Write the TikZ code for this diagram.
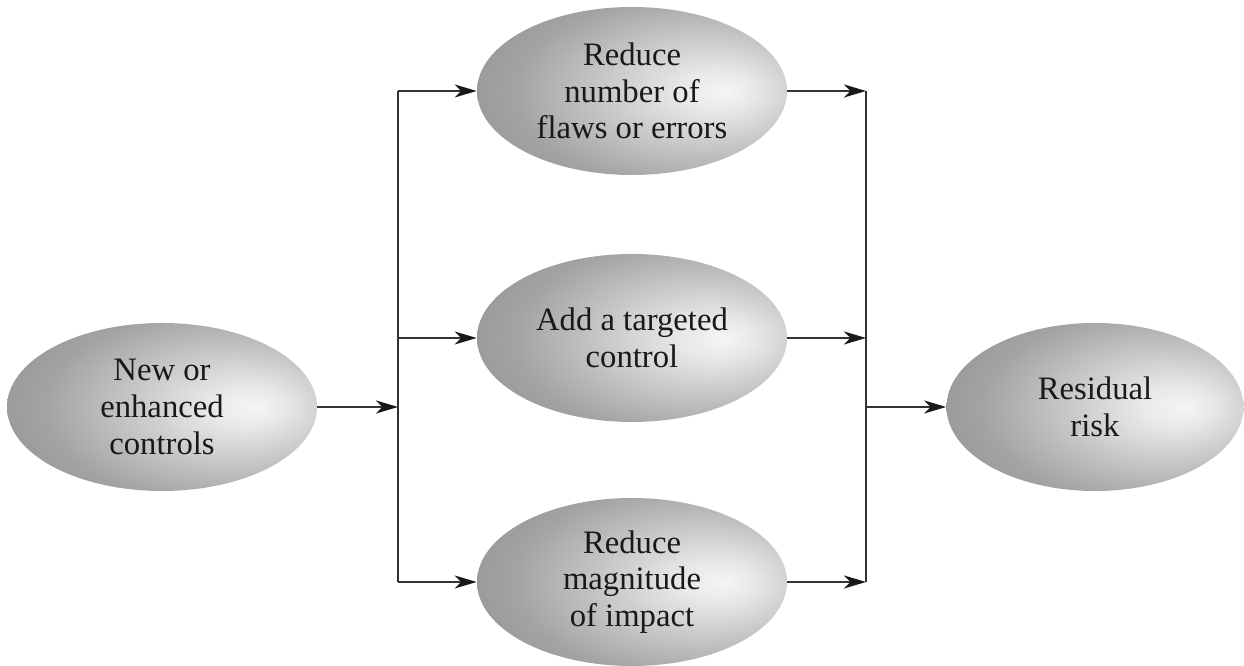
\documentclass[tikz,border=0pt]{standalone}
\usepackage{fontspec}
\setmainfont{Liberation Serif}
\usepackage{tikz}
\usetikzlibrary{shapes.geometric, arrows.meta}

\pgfdeclareradialshading{ovalshade}{\pgfpoint{15bp}{0bp}}{%
  color(0bp)=(black!4); color(6bp)=(black!9); color(28bp)=(black!36);
  color(50bp)=(black!50); color(70bp)=(black!55)}

\tikzset{
  oval/.style={ellipse, shading=ovalshade, inner sep=0pt,
    minimum width=6.2cm, minimum height=3.36cm, align=center,
    font=\fontsize{18.6}{20.8}\selectfont, text=black!90},
  flow/.style={draw=black!80, line width=1.1pt,
    -{Stealth[length=4.4mm, width=2.6mm, inset=1.3mm, black!90]}},
  bus/.style={draw=black!80, line width=1.1pt}
}

\begin{document}
\begin{tikzpicture}
    \useasboundingbox (0,0) rectangle (24.88,13.32);
    % ---- Ovals ----
    \node[oval] (ctrl) at (3.24,5.18) {New or\\enhanced\\controls};
    \node[oval] (flaws) at (12.64,11.5) {Reduce\\number of\\flaws or errors};
    \node[oval] (target) at (12.64,6.56) {Add a targeted\\control};
    \node[oval] (impact) at (12.64,1.68) {Reduce\\magnitude\\of impact};
    \node[oval, minimum width=5.94cm] (resid) at (21.9,5.18) {Residual\\risk};
    % ---- Split ----
    \coordinate (split) at (7.96,5.18);
    \coordinate (splitT) at (7.96,11.5);
    \coordinate (splitM) at (7.96,6.56);
    \coordinate (splitB) at (7.96,1.68);
    \draw[bus] (splitT) -- (splitB);
    \draw[flow] (ctrl) -- (split);
    \draw[flow] (splitT) -- (flaws);
    \draw[flow] (splitM) -- (target);
    \draw[flow] (splitB) -- (impact);
    % ---- Merge ----
    \coordinate (merge) at (17.32,5.18);
    \coordinate (mergeT) at (17.32,11.5);
    \coordinate (mergeM) at (17.32,6.56);
    \coordinate (mergeB) at (17.32,1.68);
    \draw[bus] (mergeT) -- (mergeB);
    \draw[flow] (flaws) -- (mergeT);
    \draw[flow] (target) -- (mergeM);
    \draw[flow] (impact) -- (mergeB);
    \draw[flow] (merge) -- (resid);
\end{tikzpicture}
\end{document}
